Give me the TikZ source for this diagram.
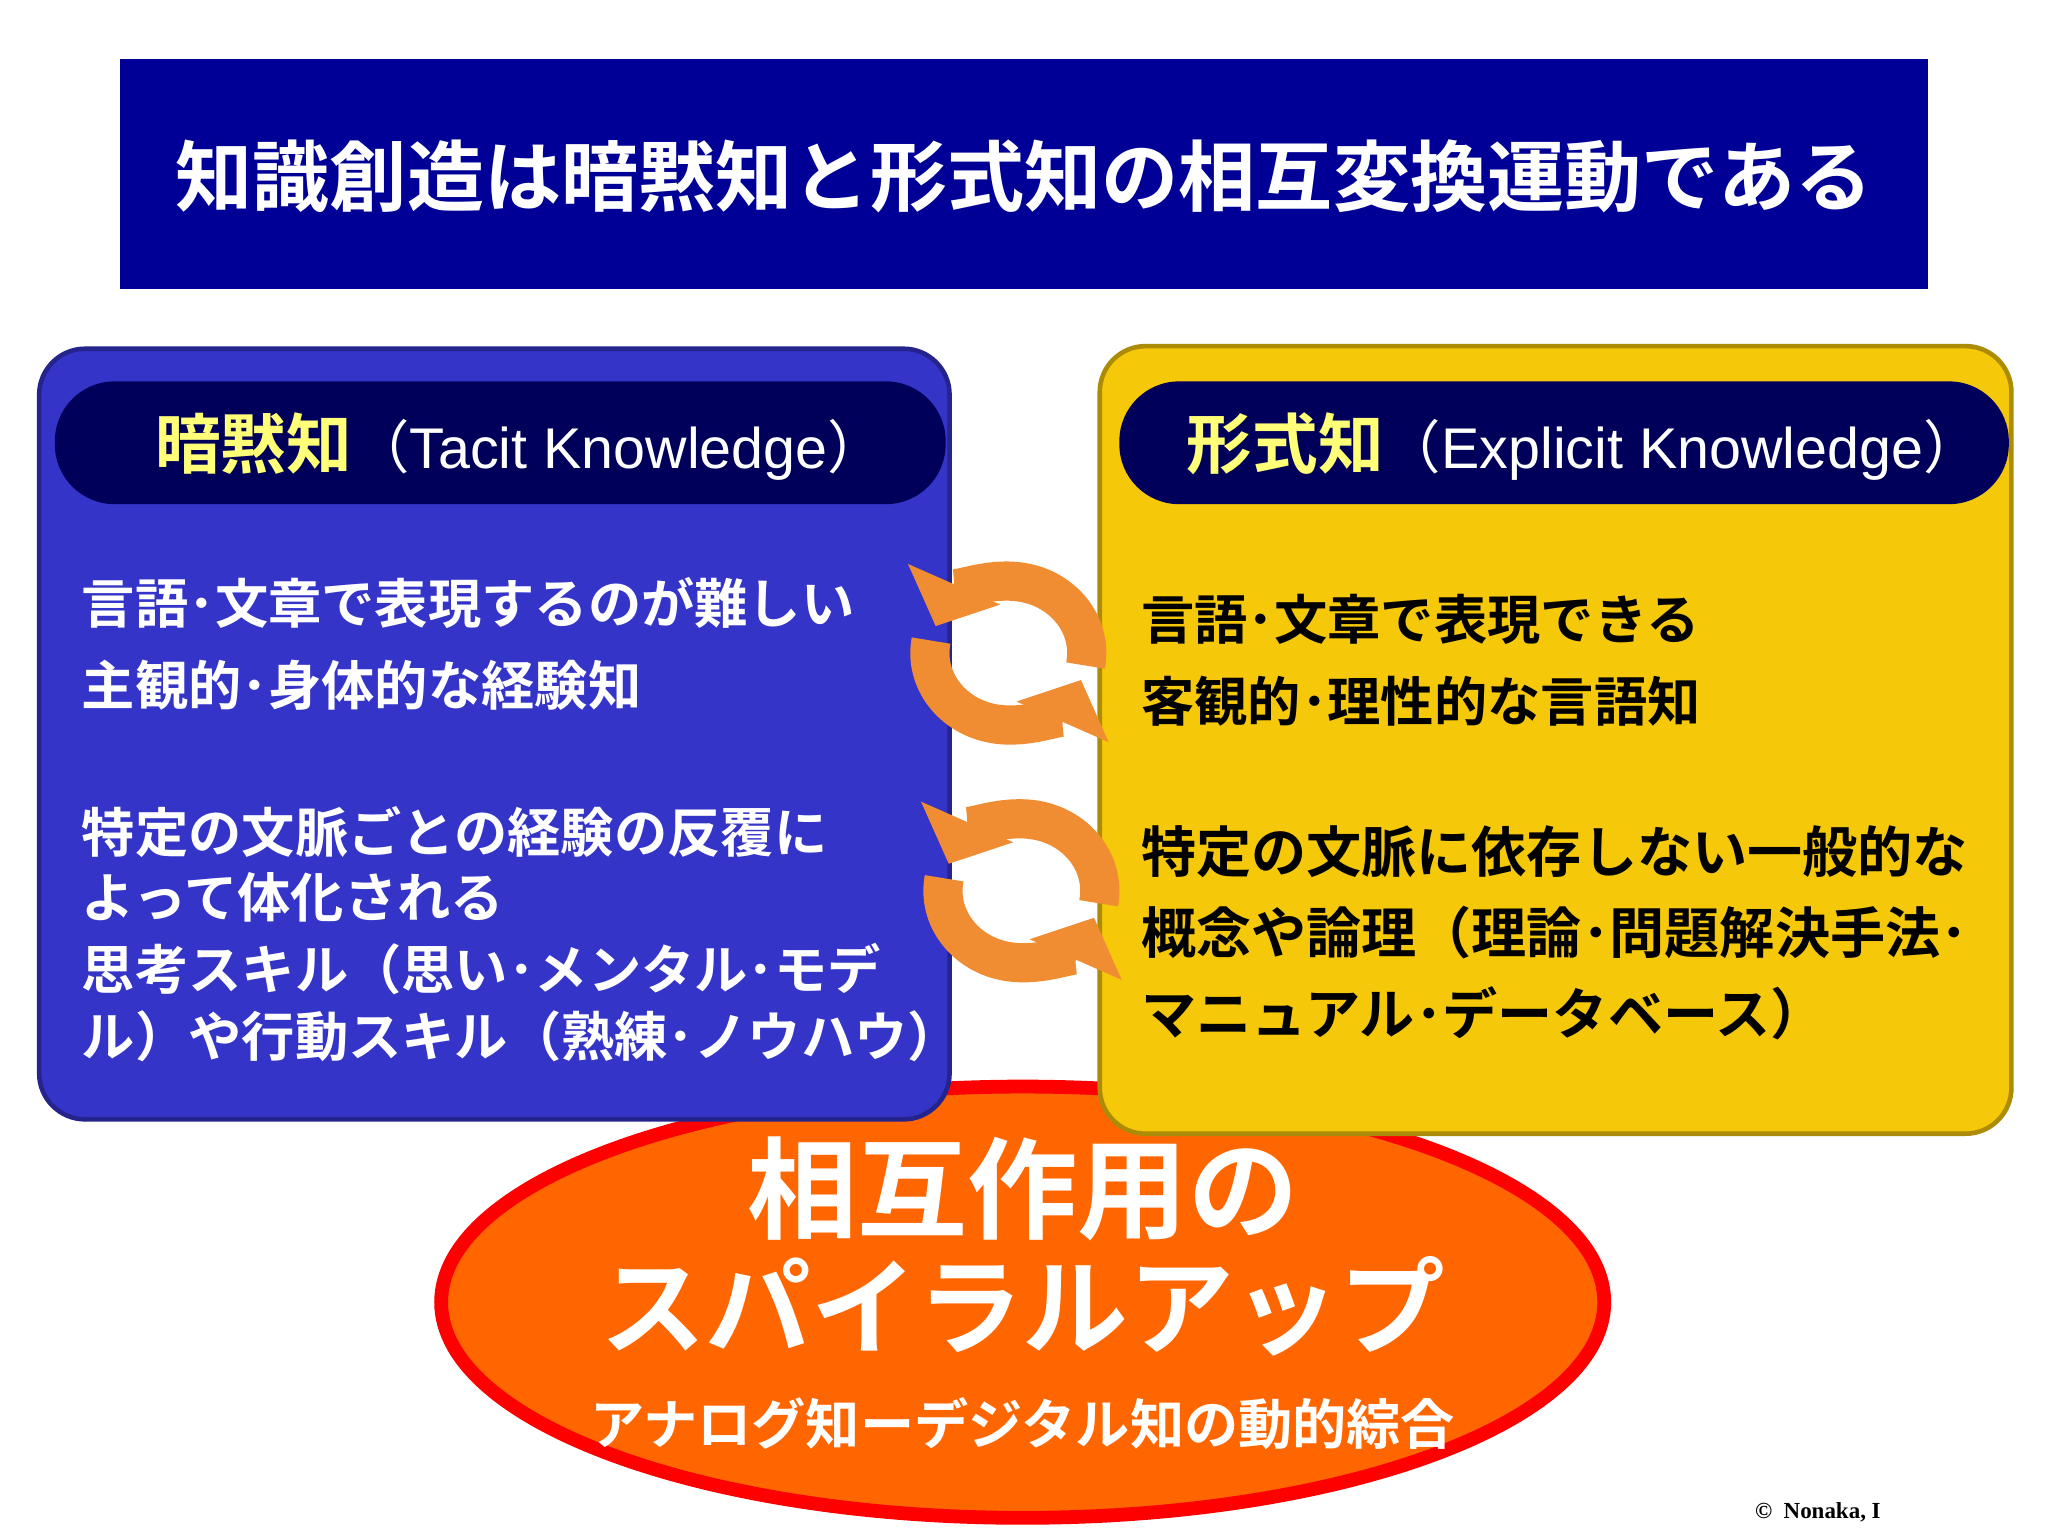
\documentclass[tikz,border=0pt]{standalone}
\usepackage{fontspec}
\setmainfont{Noto Sans CJK JP}[BoldFont={Noto Sans CJK JP Bold}]
\newfontfamily\latinf{Liberation Sans}
\newfontfamily\serf{Liberation Serif}
\usetikzlibrary{arrows.meta,shapes.geometric}
\definecolor{titleblue}{RGB}{0,0,150}
\definecolor{leftblue}{RGB}{52,52,200}
\definecolor{navy}{RGB}{0,0,90}
\definecolor{gold}{RGB}{246,200,10}
\definecolor{orng}{RGB}{255,102,0}
\definecolor{arrorange}{RGB}{240,140,50}
\definecolor{hdryellow}{RGB}{255,255,120}
\tikzset{
  body/.style={anchor=west,inner sep=0pt,font=\bfseries\fontsize{11.6pt}{14pt}\selectfont},
  pill/.style={rounded corners=13pt,fill=navy},
  cyc/.style={line width=0.3cm,draw=arrorange,-{Triangle[length=0.35cm,width=0.75cm]}},
}
\begin{document}
\begin{tikzpicture}[x=0.01cm,y=-0.01cm]
\useasboundingbox (0,0) rectangle (1568,1176);
\fill[white] (0,0) rectangle (1568,1176);
% title
\fill[titleblue] (92,45) rectangle (1476,221);
\node[text=white,font=\bfseries\fontsize{16.8pt}{20pt}\selectfont] (title) at (784,135) {知識創造は暗黙知と形式知の相互変換運動である};
% ellipse
\node[ellipse,draw=red,line width=3pt,fill=orng,minimum width=8.9cm,minimum height=3.3cm,inner sep=0pt] (ell) at (783,997) {};
% left box
\draw[fill=leftblue,draw=leftblue!70!black,rounded corners=10pt,line width=1pt] (30,267) rectangle (727,857);
\fill[pill] (42,292) rectangle (724,386);
\node[anchor=west,inner sep=0pt] (lh) at (118,342) {{\bfseries\color{hdryellow}\fontsize{14.3pt}{16pt}\selectfont 暗黙知}{\color{white}\fontsize{12.5pt}{16pt}\selectfont （{\latinf Tacit Knowledge}）}};
\node[body,text=white] (l1) at (62,462) {言語･文章で表現するのが難しい};
\node[body,text=white] (l2) at (62,525) {主観的･身体的な経験知};
\node[body,text=white] (l3) at (62,637) {特定の文脈ごとの経験の反覆に};
\node[body,text=white] (l4) at (62,687) {よって体化される};
\node[body,text=white] (l5) at (62,742) {思考スキル（思い･メンタル･モデ};
\node[body,text=white] (l6) at (62,793) {ル）や行動スキル（熟練･ノウハウ）};
% right box
\draw[fill=gold,draw=gold!70!black,rounded corners=10pt,line width=1pt] (842,265) rectangle (1540,868);
\fill[pill] (857,292) rectangle (1538,386);
\node[anchor=west,inner sep=0pt] (rh) at (908,342) {{\bfseries\color{hdryellow}\fontsize{14.3pt}{16pt}\selectfont 形式知}{\color{white}\fontsize{12.5pt}{16pt}\selectfont （{\latinf Explicit Knowledge}）}};
\node[body,text=black] (r1) at (873,474) {言語･文章で表現できる};
\node[body,text=black] (r2) at (873,537) {客観的･理性的な言語知};
\node[body,text=black,font=\bfseries\fontsize{12pt}{14pt}\selectfont] (r3) at (873,652) {特定の文脈に依存しない一般的な};
\node[body,text=black,font=\bfseries\fontsize{12pt}{14pt}\selectfont] (r4) at (873,714) {概念や論理（理論･問題解決手法･};
\node[body,text=black,font=\bfseries\fontsize{12pt}{14pt}\selectfont] (r5) at (873,776) {マニュアル･データベース）};
% cycle arrows
\coordinate (c1) at (772,500);
\coordinate (c2) at (782,682);
\foreach \c in {c1,c2}{
  \draw[cyc] (\c) ++(-10:0.6cm and 0.55cm) arc[start angle=-10,end angle=158,x radius=0.6cm,y radius=0.55cm];
  \draw[cyc] (\c) ++(170:0.6cm and 0.55cm) arc[start angle=170,end angle=338,x radius=0.6cm,y radius=0.55cm];
}
% ellipse text
\node[text=white,font=\bfseries\fontsize{24pt}{28pt}\selectfont] (e1) at (783,910) {相互作用の};
\node[text=white,font=\bfseries\fontsize{23pt}{28pt}\selectfont] (e2) at (783,1000) {スパイラルアップ};
\node[text=white,font=\bfseries\fontsize{11.8pt}{14pt}\selectfont] (e3) at (783,1090) {アナログ知ーデジタル知の動的綜合};
\node[anchor=west,inner sep=0pt,font=\serf\bfseries\fontsize{5pt}{6pt}\selectfont] (cp) at (1343,1158) {©\ \ Nonaka, I};
\end{tikzpicture}
\end{document}
